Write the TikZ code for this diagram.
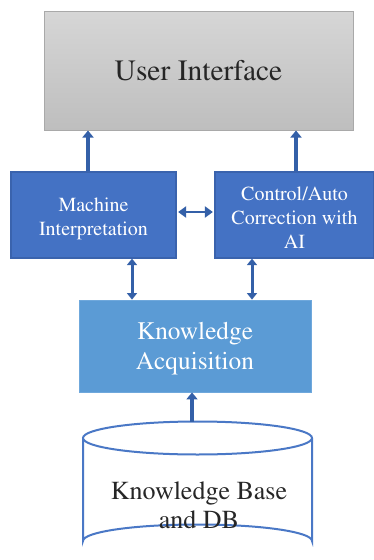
\documentclass[tikz,border=0pt]{standalone}
\usepackage[T1]{fontenc}
\usepackage{times}
\usetikzlibrary{arrows.meta}

\definecolor{uiTop}{HTML}{D6D6D6}
\definecolor{uiBot}{HTML}{BEBEBE}
\definecolor{uiLine}{HTML}{A9A9A9}
\definecolor{darkBox}{HTML}{4472C4}
\definecolor{darkLine}{HTML}{3A63AD}
\definecolor{lightBox}{HTML}{5B9BD5}
\definecolor{lightLine}{HTML}{6FA8DC}
\definecolor{arrowBlue}{HTML}{3460A8}
\definecolor{cylLine}{HTML}{4A78C6}

\tikzset{
  uibox/.style={rectangle, draw=uiLine, line width=1pt, top color=uiTop, bottom color=uiBot,
    inner sep=0pt, font=\fontsize{29.5}{32}\selectfont, text=black!85},
  modbox/.style={rectangle, fill=darkBox, draw=darkLine, line width=1.2pt, inner sep=0pt},
  modtext/.style={text=white, align=center, inner sep=0pt, font=\fontsize{20}{24}\selectfont},
  acqbox/.style={rectangle, fill=lightBox, draw=lightLine, line width=0.8pt, inner sep=0pt},
  acqtext/.style={text=white, align=center, inner sep=0pt, font=\fontsize{25.3}{30}\selectfont},
  thickarrow/.style={draw=arrowBlue, line width=4pt, -{Triangle[width=11pt,length=7pt]}},
  dblarrow/.style={draw=arrowBlue, line width=3pt, {Triangle[width=10pt,length=6.5pt]}-{Triangle[width=10pt,length=6.5pt]}},
  thinarrow/.style={draw=arrowBlue, line width=2pt, {Triangle[width=11pt,length=8pt]}-{Triangle[width=11pt,length=8pt]}},
  cyl/.style={draw=cylLine, line width=2pt, fill=white},
  cyltext/.style={align=center, text=black!85, font=\fontsize{26}{29}\selectfont}
}

\begin{document}
\begin{tikzpicture}[x=1pt,y=-1pt]
  \useasboundingbox (0,0) rectangle (374,560);

  % boxes
  \node[uibox, minimum width=309pt, minimum height=119pt] (ui) at (198.5,70.5) {User Interface};
  \node[modbox, minimum width=165pt, minimum height=86pt,
        label={[modtext, yshift=-4pt]center:{Machine\\Interpretation}}] (mi) at (93.5,215) {};
  \node[modbox, minimum width=159pt, minimum height=86pt,
        label={[modtext, yshift=-2.5pt]center:{Control/Auto\\Correction with\\AI}}] (ca) at (294.5,215) {};
  \node[acqbox, minimum width=232pt, minimum height=92pt,
        label={[acqtext, yshift=-3pt]center:{Knowledge\\Acquisition}}] (ka) at (195,346) {};

  % storage cylinder
  \draw[cyl] (83,438) -- (83,541) arc[start angle=180, end angle=0, x radius=114.5pt, y radius=16.5pt] -- (312,438);
  \draw[cyl] (197.5,438) ellipse[x radius=114.5pt, y radius=16.5pt];
  \coordinate (cyltop) at (192,421.5);
  \node[cyltext] (kb) at (199,505) {Knowledge Base\\and DB};

  % connectors
  \draw[thickarrow] (mi.north -| 88,0) -- (ui.south -| 88,0);
  \draw[thickarrow] (ca.north -| 296,0) -- (ui.south -| 296,0);
  \path (mi.east) ++(1.5pt,3pt) coordinate (hL) (ca.west) ++(-1.5pt,3pt) coordinate (hR);
  \draw[thinarrow] (hL) -- (hR);
  \draw[dblarrow] (mi.south -| 132,0) -- (ka.north -| 132,0);
  \draw[dblarrow] (ca.south -| 252,0) -- (ka.north -| 252,0);
  \draw[thickarrow] (cyltop) -- (ka.south -| cyltop);
\end{tikzpicture}
\end{document}
